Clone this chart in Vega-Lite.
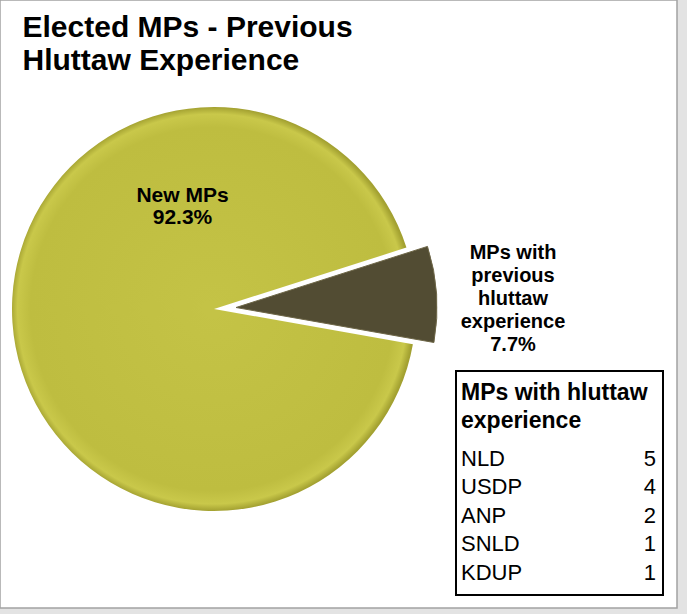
{
  "$schema": "https://vega.github.io/schema/vega-lite/v6.json",
  "width": 677,
  "height": 608,
  "autosize": "none",
  "padding": {"left": 0, "top": 0, "right": 10, "bottom": 6},
  "background": "#e3e3e3",
  "view": {"fill": "white", "stroke": "#a3a3a3", "strokeWidth": 1.5},
  "config": {"font": "Liberation Sans"},
  "title": {
    "text": ["Elected MPs - Previous", "Hluttaw Experience"],
    "orient": "top",
    "anchor": "start",
    "frame": "group",
    "offset": -76,
    "dx": 22.5,
    "fontSize": 30,
    "fontWeight": "bold",
    "lineHeight": 33.3,
    "font": "Liberation Sans",
    "color": "black"
  },
  "datasets": {
    "share": [
      {"group": "New MPs", "pct": 92.3, "label": "New MPs\n92.3%"},
      {"group": "MPs with previous hluttaw experience", "pct": 7.7, "label": "MPs with\nprevious\nhluttaw\nexperience\n7.7%"}
    ],
    "box": [
      {"heading": "MPs with hluttaw\nexperience"}
    ],
    "parties": [
      {"party": "NLD", "mps": 5},
      {"party": "USDP", "mps": 4},
      {"party": "ANP", "mps": 2},
      {"party": "SNLD", "mps": 1},
      {"party": "KDUP", "mps": 1}
    ]
  },
  "resolve": {"scale": {"y": "independent"}},
  "layer": [
    {
      "layer": [
        {
          "data": {"name": "share"},
          "transform": [
            {"stack": "pct", "groupby": [], "as": ["t0", "t1"], "sort": [{"field": "pct", "order": "descending"}]},
            {"filter": "datum.group === 'New MPs'"}
          ],
          "mark": {
            "type": "arc",
            "outerRadius": 202,
            "fill": {
              "gradient": "radial",
              "x1": 0.5, "y1": 0.5, "x2": 0.5, "y2": 0.5, "r1": 0, "r2": 0.5,
              "stops": [
                {"offset": 0, "color": "#c4c346"},
                {"offset": 0.9, "color": "#bebd40"},
                {"offset": 0.965, "color": "#c9c84a"},
                {"offset": 1, "color": "#a3a131"}
              ]
            }
          },
          "encoding": {
            "x": {"datum": 214, "type": "quantitative", "scale": {"domain": [0, 677], "nice": false, "zero": false}, "axis": null},
            "y": {"datum": 309, "type": "quantitative", "scale": {"domain": [0, 608], "range": [0, 608], "nice": false, "zero": false}, "axis": null},
            "theta": {"field": "t0", "type": "quantitative", "scale": {"domain": [0, 100], "range": [1.746, 8.029]}},
            "theta2": {"field": "t1"}
          }
        },
        {
          "data": {"name": "share"},
          "transform": [
            {"stack": "pct", "groupby": [], "as": ["t0", "t1"], "sort": [{"field": "pct", "order": "descending"}]},
            {"filter": "datum.group !== 'New MPs'"}
          ],
          "mark": {"type": "arc", "outerRadius": 201, "xOffset": 22, "yOffset": -1.5, "fill": "#524c33", "stroke": "#6e6748", "strokeWidth": 1},
          "encoding": {
            "x": {"datum": 214, "type": "quantitative"},
            "y": {"datum": 309, "type": "quantitative"},
            "theta": {"field": "t0", "type": "quantitative"},
            "theta2": {"field": "t1"}
          }
        },
        {
          "data": {"name": "share"},
          "transform": [{"filter": "datum.group === 'New MPs'"}],
          "mark": {"type": "text", "align": "center", "baseline": "alphabetic", "lineBreak": "\n", "fontSize": 21, "fontWeight": "bold", "lineHeight": 22.6, "color": "black"},
          "encoding": {
            "x": {"datum": 182.5, "type": "quantitative"},
            "y": {"datum": 201.7, "type": "quantitative"},
            "text": {"field": "label", "type": "nominal"}
          }
        },
        {
          "data": {"name": "share"},
          "transform": [{"filter": "datum.group !== 'New MPs'"}],
          "mark": {"type": "text", "align": "center", "baseline": "alphabetic", "lineBreak": "\n", "fontSize": 20, "fontWeight": "bold", "lineHeight": 23, "color": "black"},
          "encoding": {
            "x": {"datum": 513, "type": "quantitative"},
            "y": {"datum": 259, "type": "quantitative"},
            "text": {"field": "label", "type": "nominal"}
          }
        },
        {
          "data": {"name": "box"},
          "mark": {"type": "rect", "filled": false, "stroke": "black", "strokeWidth": 2},
          "encoding": {
            "x": {"datum": 456, "type": "quantitative"},
            "x2": {"datum": 663},
            "y": {"datum": 371, "type": "quantitative"},
            "y2": {"datum": 595}
          }
        },
        {
          "data": {"name": "box"},
          "mark": {"type": "text", "align": "left", "baseline": "alphabetic", "lineBreak": "\n", "fontSize": 23, "fontWeight": "bold", "lineHeight": 28, "color": "black"},
          "encoding": {
            "x": {"datum": 461, "type": "quantitative"},
            "y": {"datum": 400, "type": "quantitative"},
            "text": {"field": "heading", "type": "nominal"}
          }
        }
      ]
    },
    {
      "data": {"name": "parties"},
      "encoding": {
        "y": {
          "field": "party",
          "type": "nominal",
          "sort": null,
          "scale": {"type": "point", "domain": ["NLD", "USDP", "ANP", "SNLD", "KDUP"], "range": [465.7, 580], "padding": 0},
          "axis": null
        }
      },
      "layer": [
        {
          "mark": {"type": "text", "align": "left", "baseline": "alphabetic", "fontSize": 22, "color": "black"},
          "encoding": {
            "x": {"datum": 461, "type": "quantitative", "scale": {"domain": [0, 677], "nice": false, "zero": false}, "axis": null},
            "text": {"field": "party", "type": "nominal"}
          }
        },
        {
          "mark": {"type": "text", "align": "right", "baseline": "alphabetic", "fontSize": 22, "color": "black"},
          "encoding": {
            "x": {"datum": 656, "type": "quantitative"},
            "text": {"field": "mps", "type": "quantitative"}
          }
        }
      ]
    }
  ]
}
